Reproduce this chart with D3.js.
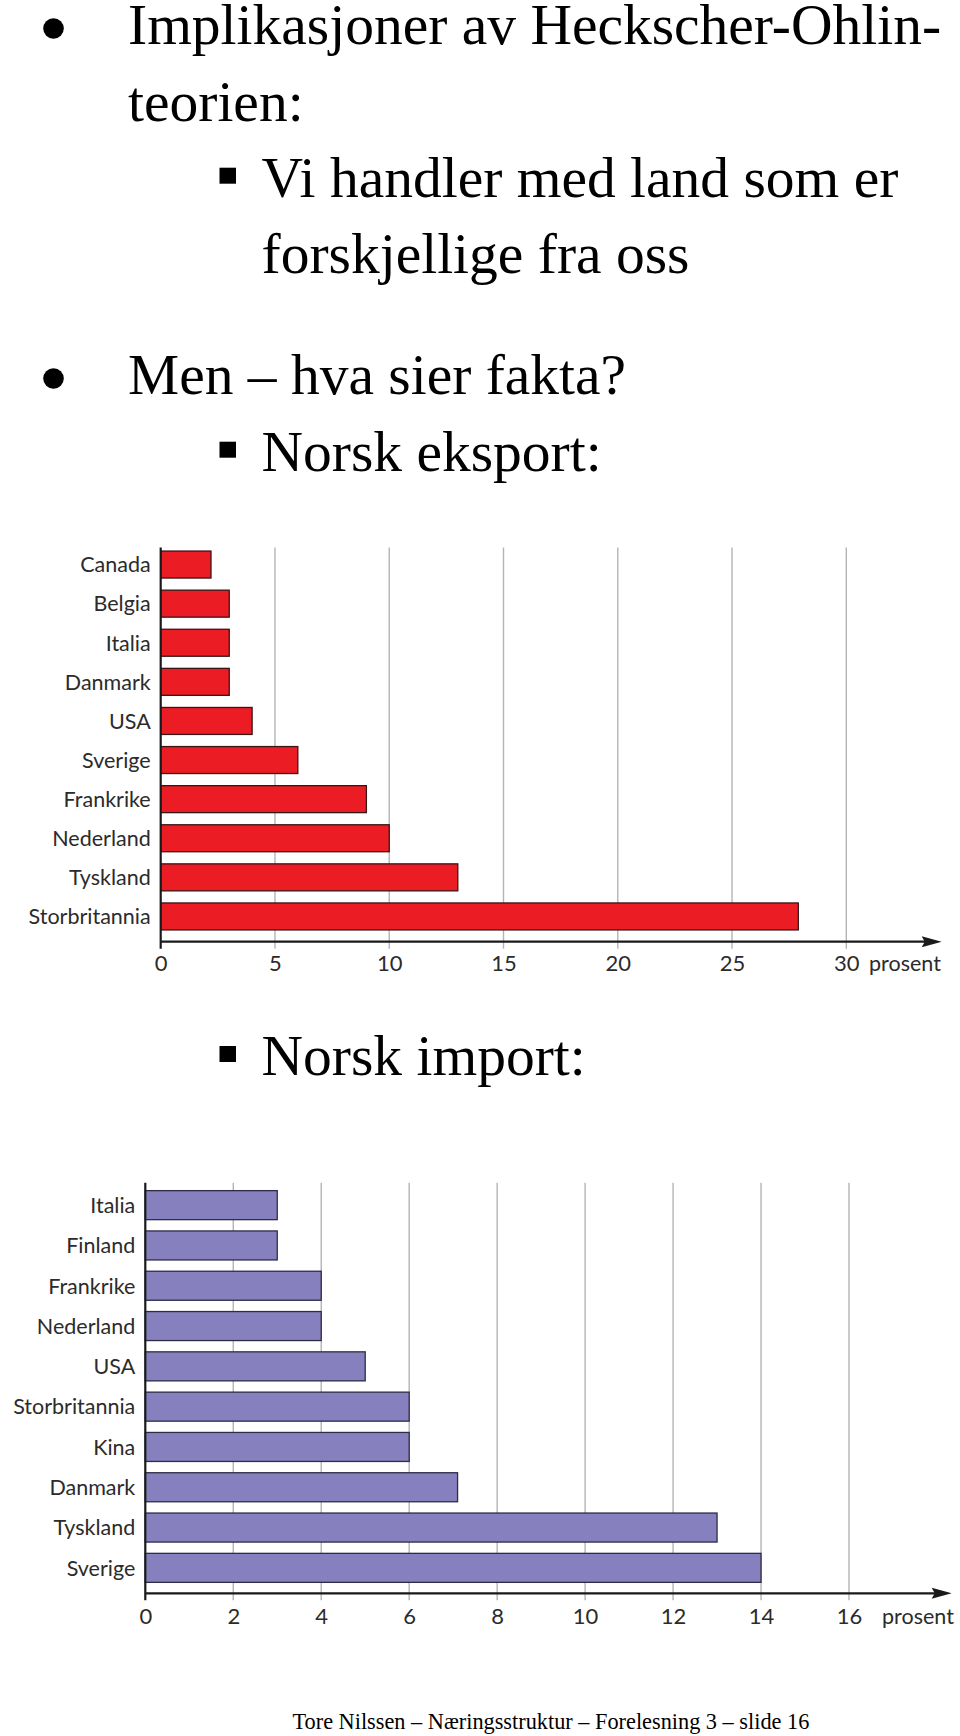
<!DOCTYPE html>
<html>
<head>
<meta charset="utf-8">
<script src="https://cdn.jsdelivr.net/npm/d3@7"></script>
<style>
  html, body { margin: 0; padding: 0; background: #fff; }
  svg { display: block; }
  .serif { font-family: "Liberation Serif", "Times New Roman", serif; fill: #000; }
  .sans { font-family: Lato, "Noto Sans", sans-serif; fill: #2b2b2b; }
</style>
</head>
<body>
<script>
// ---------- data ----------
const exportCountries = ["Canada", "Belgia", "Italia", "Danmark", "USA", "Sverige", "Frankrike", "Nederland", "Tyskland", "Storbritannia"];
const exportValues = [2.2, 3, 3, 3, 4, 6, 9, 10, 13, 27.9];
const exportTicks = [0, 5, 10, 15, 20, 25, 30];

const importCountries = ["Italia", "Finland", "Frankrike", "Nederland", "USA", "Storbritannia", "Kina", "Danmark", "Tyskland", "Sverige"];
const importValues = [3, 3, 4, 4, 5, 6, 6, 7.1, 13, 14];
const importTicks = [0, 2, 4, 6, 8, 10, 12, 14, 16];

const axisUnit = "prosent";

const textLines = [
  { text: "Implikasjoner av Heckscher-Ohlin-", x: 128, y: 44, mark: "dot" },
  { text: "teorien:", x: 128, y: 120.7 },
  { text: "Vi handler med land som er", x: 261.5, y: 196.7, mark: "square" },
  { text: "forskjellige fra oss", x: 261.5, y: 273.3 },
  { text: "Men – hva sier fakta?", x: 128, y: 394, mark: "dot" },
  { text: "Norsk eksport:", x: 261.5, y: 470.7, mark: "square" },
  { text: "Norsk import:", x: 261.5, y: 1075, mark: "square" }
];
const footer = "Tore Nilssen – Næringsstruktur – Forelesning 3 – slide 16";

// ---------- svg ----------
const W = 960, H = 1736;
const svg = d3.select("body").append("svg").attr("width", W).attr("height", H);
svg.append("rect").attr("width", W).attr("height", H).attr("fill", "#fff");

// text lines
textLines.forEach(l => {
  svg.append("text").attr("class", "serif")
    .attr("x", l.x).attr("y", l.y)
    .attr("font-size", 57.5)
    .text(l.text);
  if (l.mark === "dot") {
    svg.append("circle").attr("cx", 53.5).attr("cy", l.y - 15.5).attr("r", 10.3).attr("fill", "#000");
  } else if (l.mark === "square") {
    svg.append("rect").attr("x", 219.5).attr("y", l.y - 29).attr("width", 16.5).attr("height", 16).attr("fill", "#000");
  }
});

svg.append("text").attr("class", "serif")
  .attr("x", 292.5).attr("y", 1729.3)
  .attr("font-size", 22.3)
  .text(footer);

// ---------- chart builder ----------
function barChart(cfg) {
  const g = svg.append("g");
  const x = d3.scaleLinear().domain(cfg.domain).range([cfg.x0, cfg.x1]);
  const y = d3.scaleBand().domain(cfg.categories).range([cfg.yTop, cfg.yBottom])
    .paddingInner(cfg.padIn).paddingOuter(cfg.padOut);

  // gridlines + ticks
  g.append("g").selectAll("line")
    .data(cfg.ticks.filter(t => t !== 0))
    .join("line")
    .attr("x1", d => x(d)).attr("x2", d => x(d))
    .attr("y1", cfg.gridTop).attr("y2", cfg.axisY + 7)
    .attr("stroke", "#b4b4b4").attr("stroke-width", 1.4);

  // bars
  g.append("g").selectAll("rect")
    .data(cfg.categories.map((c, i) => ({ c, v: cfg.values[i] })))
    .join("rect")
    .attr("x", x(0))
    .attr("y", d => y(d.c))
    .attr("width", d => x(d.v) - x(0))
    .attr("height", y.bandwidth())
    .attr("fill", cfg.fill)
    .attr("stroke", cfg.stroke)
    .attr("stroke-width", 1.3);

  // category labels
  const yAxis = g.append("g").attr("transform", `translate(${x(0)},0)`)
    .call(d3.axisLeft(y).tickSize(0).tickPadding(10));
  yAxis.select(".domain").remove();
  yAxis.selectAll("text")
    .attr("class", "sans").attr("font-size", 21.5).attr("font-family", null)
    .attr("fill", "#2b2b2b").attr("dy", "0.36em");

  // x tick labels
  const xAxis = g.append("g").attr("transform", `translate(0,${cfg.axisY})`)
    .call(d3.axisBottom(x).tickValues(cfg.ticks).tickSize(0).tickFormat(d3.format("d")));
  xAxis.select(".domain").remove();
  xAxis.selectAll("text")
    .attr("class", "sans").attr("font-size", 22).attr("font-family", null)
    .attr("fill", "#2b2b2b").attr("y", cfg.labelOffset).attr("dy", 0);

  // axes lines
  g.append("line").attr("x1", x(0)).attr("x2", x(0))
    .attr("y1", cfg.gridTop).attr("y2", cfg.axisY + 7)
    .attr("stroke", "#1a1a1a").attr("stroke-width", 2.2);
  g.append("line").attr("x1", x(0)).attr("x2", cfg.arrowTip - 16)
    .attr("y1", cfg.axisY).attr("y2", cfg.axisY)
    .attr("stroke", "#1a1a1a").attr("stroke-width", 2.2);
  g.append("path")
    .attr("d", `M${cfg.arrowTip},${cfg.axisY} L${cfg.arrowTip - 20},${cfg.axisY - 5.5} L${cfg.arrowTip - 17},${cfg.axisY} L${cfg.arrowTip - 20},${cfg.axisY + 5.5} Z`)
    .attr("fill", "#1a1a1a");

  g.append("text").attr("class", "sans").attr("font-size", 21.5)
    .attr("x", cfg.unitX).attr("y", cfg.axisY + cfg.labelOffset)
    .text(axisUnit);
}

barChart({
  categories: exportCountries, values: exportValues, ticks: exportTicks,
  domain: [0, 30], x0: 160.7, x1: 846.3,
  yTop: 545, yBottom: 936, padIn: 0.31, padOut: 0.155,
  gridTop: 547.5, axisY: 941.7, labelOffset: 29,
  arrowTip: 941.7, unitX: 869,
  fill: "#ec1c24", stroke: "#3b1416"
});

barChart({
  categories: importCountries, values: importValues, ticks: importTicks,
  domain: [0, 16], x0: 145.3, x1: 849,
  yTop: 1185, yBottom: 1588, padIn: 0.28, padOut: 0.14,
  gridTop: 1182.7, axisY: 1593.3, labelOffset: 30.5,
  arrowTip: 951.7, unitX: 882,
  fill: "#8681be", stroke: "#2e2b45"
});
</script>
</body>
</html>
